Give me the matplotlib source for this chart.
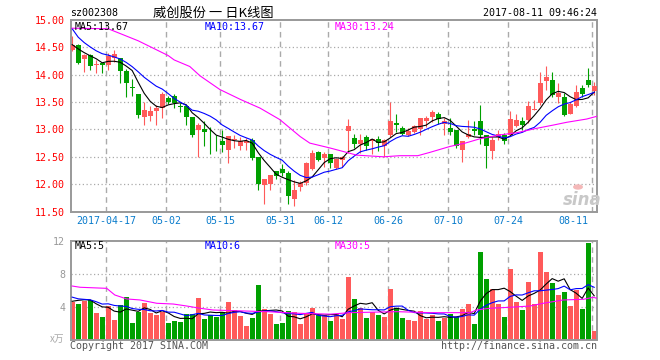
import matplotlib
matplotlib.use("Agg")
import matplotlib.pyplot as plt
import matplotlib.transforms as mtrans
from matplotlib.patches import Circle
import numpy as np

# ---------------- data ----------------
opens = [14.46, 14.55, 14.28, 14.36, 14.17, 14.22, 14.17, 14.31, 14.30, 14.07,
         13.77, 13.64, 13.22, 13.24, 13.34, 13.39, 13.58, 13.61, 13.42, 13.42,
         13.22, 12.99, 13.01, 12.85, 12.72, 12.78, 12.63, 12.80, 12.70, 12.76,
         12.80, 12.50, 11.99, 12.01, 12.24, 12.28, 12.21, 11.72, 11.95, 12.02,
         12.27, 12.59, 12.47, 12.56, 12.30, 12.45, 12.98, 12.85, 12.74, 12.86,
         12.78, 12.82, 12.69, 12.90, 13.11, 13.02, 12.90, 12.96, 13.00, 13.15,
         13.22, 13.28, 13.10, 13.02, 12.99, 12.63, 12.86, 13.00, 13.15, 12.90,
         12.60, 12.86, 12.90, 12.90, 13.07, 13.15, 13.18, 13.36, 13.48, 13.89,
         13.90, 13.60, 13.59, 13.28, 13.42, 13.76, 13.90, 13.71]
highs = [14.71, 14.56, 14.37, 14.37, 14.26, 14.22, 14.40, 14.45, 14.31, 14.10,
         13.92, 13.65, 13.50, 13.42, 13.44, 13.69, 13.61, 13.64, 13.48, 13.44,
         13.23, 13.12, 13.15, 13.04, 12.89, 12.99, 12.88, 12.90, 12.87, 12.84,
         12.84, 12.50, 12.10, 12.16, 12.24, 12.36, 12.24, 12.08, 12.05, 12.40,
         12.62, 12.60, 12.59, 12.56, 12.48, 12.52, 13.19, 12.92, 12.92, 12.90,
         12.83, 12.88, 12.82, 13.51, 13.28, 13.07, 13.02, 13.08, 13.21, 13.25,
         13.35, 13.31, 13.21, 13.21, 12.99, 12.78, 13.18, 13.15, 13.45, 12.90,
         12.87, 12.99, 12.93, 13.33, 13.28, 13.22, 13.52, 13.54, 14.05, 14.16,
         14.05, 13.85, 13.66, 13.51, 13.81, 13.81, 14.12, 13.87]
lows = [14.43, 14.19, 14.05, 14.08, 14.03, 14.04, 14.08, 14.23, 13.85, 13.59,
        13.61, 13.21, 13.08, 13.16, 13.08, 13.20, 13.46, 13.39, 13.31, 13.08,
        12.87, 12.50, 12.69, 12.55, 12.60, 12.58, 12.38, 12.66, 12.63, 12.63,
        12.45, 11.89, 11.63, 11.89, 12.09, 12.15, 11.63, 11.60, 11.87, 11.99,
        12.25, 12.42, 12.32, 12.30, 12.28, 12.31, 12.57, 12.66, 12.57, 12.63,
        12.56, 12.60, 12.50, 12.87, 12.96, 12.90, 12.88, 12.94, 12.89, 13.04,
        13.13, 13.10, 12.90, 12.90, 12.66, 12.40, 12.84, 12.90, 12.74, 12.30,
        12.46, 12.81, 12.74, 12.90, 13.04, 12.99, 13.12, 13.35, 13.45, 13.72,
        13.60, 13.49, 13.25, 13.28, 13.41, 13.60, 13.78, 13.63]
closes = [14.54, 14.21, 14.36, 14.16, 14.19, 14.17, 14.34, 14.37, 14.07, 13.84,
          13.76, 13.27, 13.36, 13.34, 13.39, 13.64, 13.51, 13.48, 13.41, 13.22,
          12.90, 13.08, 12.95, 12.84, 12.71, 12.72, 12.88, 12.82, 12.78, 12.79,
          12.48, 12.01, 12.10, 12.16, 12.15, 12.21, 11.79, 11.90, 12.02, 12.38,
          12.57, 12.44, 12.56, 12.38, 12.46, 12.50, 13.07, 12.74, 12.80, 12.69,
          12.82, 12.75, 12.81, 13.15, 13.09, 12.92, 12.98, 13.07, 13.21, 13.21,
          13.31, 13.19, 13.16, 12.95, 12.69, 12.78, 12.92, 12.98, 12.90, 12.70,
          12.81, 12.92, 12.78, 13.19, 13.18, 13.08, 13.43, 13.38, 13.85, 13.96,
          13.63, 13.66, 13.27, 13.47, 13.69, 13.65, 13.81, 13.79]
# closes before the first visible day (inferred from the MA lines)
pre_closes = [15.75, 15.35, 14.95, 14.90, 14.70, 14.60, 14.70, 14.45, 14.46]

volumes = [4.65, 4.37, 4.77, 4.86, 3.33, 2.81, 4.13, 2.45, 4.25, 5.25,
           2.08, 3.41, 4.53, 3.33, 3.09, 3.45, 2.12, 2.33, 2.20, 3.17,
           3.17, 5.10, 2.57, 3.01, 2.81, 3.37, 4.61, 3.65, 2.93, 1.72,
           2.69, 6.66, 3.77, 3.17, 1.96, 2.08, 3.53, 3.41, 1.96, 3.17,
           3.89, 3.05, 3.05, 2.33, 3.17, 2.57, 7.63, 4.98, 3.93, 2.69,
           3.41, 3.05, 2.81, 6.18, 3.89, 2.69, 2.45, 2.33, 3.53, 2.57,
           3.05, 2.33, 2.73, 3.17, 2.81, 3.77, 4.37, 1.96, 10.64, 7.39,
           6.18, 4.37, 2.81, 8.59, 4.61, 3.65, 7.03, 4.37, 10.64, 8.23,
           6.90, 5.46, 5.82, 4.13, 6.06, 3.77, 11.72, 1.12]
pre_volumes = [6.40, 5.40, 5.43, 5.60, 5.67, 3.80, 4.40, 5.00, 5.65]

# MA30 lines (index, value)
ma30_idx = [0, 6, 11, 16, 17, 19.6, 21.3, 24.6, 28, 31.3, 34.6, 38, 39.6, 43,
            45.75, 47.4, 51.9, 54.6, 57.6, 59.6, 63, 65.5, 68, 71.3, 74.1, 77.4,
            80.2, 82.4, 85.75, 87.45]
ma30_val = [14.85, 14.84, 14.62, 14.35, 14.27, 14.15, 13.98, 13.73, 13.55, 13.39,
            13.18, 12.87, 12.75, 12.66, 12.58, 12.53, 12.50, 12.52, 12.52, 12.58,
            12.69, 12.75, 12.83, 12.90, 12.94, 13.02, 13.08, 13.13, 13.19, 13.24]
vma30_idx = [0, 1.3, 5.75, 7.1, 9.1, 11.3, 14.1, 16.85, 19.1, 21.3, 23.5, 26.85,
             32.4, 38, 43, 46.3, 54.1, 59.6, 66.3, 67.4, 69.6, 73, 76.3, 78.5,
             81.85, 85.2, 86.85, 87.45]
vma30_val = [6.54, 6.39, 6.26, 5.46, 4.98, 4.86, 4.46, 4.37, 4.13, 3.86, 3.65, 3.57,
             3.45, 3.25, 3.15, 3.33, 3.45, 3.33, 3.33, 3.65, 3.86, 3.98, 4.13, 4.46,
             4.86, 4.94, 5.18, 5.06]

tick_idx = [6, 16, 25, 35, 43, 53, 63, 73, 87]
tick_labels = ["2017-04-17", "05-02", "05-15", "05-31", "06-12",
               "06-26", "07-10", "07-24", "08-11"]
price_ticks = [11.5, 12.0, 12.5, 13.0, 13.5, 14.0, 14.5, 15.0]
vol_ticks = [4, 8, 12]

title = "威创股份 一 日K线图"
code = "sz002308"
stamp = "2017-08-11 09:46:24"

# ---------------- style ----------------
RED = "#ff5a5a"
GREEN = "#00a000"
GRID = "#aaaaaa"
FRAME = "#999999"
MONO = "DejaVu Sans Mono"
W, H = 660, 360

def fx(px):
    return px / W

def fy(py):
    return 1 - py / H

fig = plt.figure(figsize=(6.6, 3.6), dpi=100)
axp = fig.add_axes([fx(70.7), fy(211.5), fx(597 - 70.7), (211.5 - 20) / H])
axv = fig.add_axes([fx(70.7), fy(340.3), fx(597 - 70.7), (340.3 - 240.7) / H])

o = np.array(opens); h = np.array(highs); l = np.array(lows); c = np.array(closes)
v = np.array(volumes)
x = np.arange(len(c))
up = c >= o
cols = np.where(up, RED, GREEN)

def rolling(arr, pre, n):
    full = np.concatenate([pre, arr])
    return np.array([full[i + len(pre) - n + 1:i + len(pre) + 1].mean() for i in range(len(arr))])

xl = (-0.25, 87.47)
tick_pos = [t - 0.3 for t in tick_idx]

for ax in (axp, axv):
    ax.set_xlim(*xl)
    for s in ax.spines.values():
        s.set_color(FRAME)
        s.set_linewidth(1.4)
    for tp in tick_pos:
        ax.axvline(tp, color=GRID, lw=1.0, ls=(0, (4, 3)), zorder=0)
    ax.tick_params(length=0)

# price panel
axp.set_ylim(11.5, 15.0)
for yv in price_ticks[1:-1]:
    axp.axhline(yv, color=GRID, lw=0.9, ls=(0, (1, 2)), zorder=0)
axp.vlines(x, l, h, colors=cols, lw=0.8, zorder=2)
body_lo = np.minimum(o, c)
body_h = np.maximum(np.abs(c - o), 0.012)
axp.bar(x, body_h, bottom=body_lo, width=0.8, color=cols, lw=0, zorder=3)

ma5 = rolling(c, np.array(pre_closes), 5)
ma10 = rolling(c, np.array(pre_closes), 10)
axp.plot(x, ma5, color="black", lw=0.8, zorder=4)
axp.plot(x, ma10, color="#0000ff", lw=0.8, zorder=4)
axp.plot(ma30_idx, ma30_val, color="#ff00ff", lw=0.8, zorder=4)

axp.set_yticks(price_ticks)
axp.set_yticklabels([f"{p:.2f}" for p in price_ticks], color="red",
                    fontfamily=MONO, fontsize=7.2)
axp.tick_params(axis="y", pad=4)
axp.set_xticks(tick_pos)
axp.set_xticklabels(tick_labels, color="#0a7ccc", fontfamily=MONO, fontsize=7.2)
axp.tick_params(axis="x", pad=3)
lab = axp.get_xticklabels()[-1]
lab.set_ha("right")
lab.set_transform(lab.get_transform() + mtrans.ScaledTranslation(-3 / 72, 0, fig.dpi_scale_trans))

# volume panel
axv.set_ylim(0, 12)
for yv in (4, 8):
    axv.axhline(yv, color=GRID, lw=0.9, ls=(0, (1, 2)), zorder=0)
axv.bar(x, v, width=0.8, color=cols, lw=0, zorder=2)
vma5 = rolling(v, np.array(pre_volumes), 5)
vma10 = rolling(v, np.array(pre_volumes), 10)
axv.plot(x, vma5, color="black", lw=0.8, zorder=4)
axv.plot(x, vma10, color="#0000ff", lw=0.8, zorder=4)
axv.plot(vma30_idx, vma30_val, color="#ff00ff", lw=0.8, zorder=4)
axv.set_yticks(vol_ticks)
axv.set_yticklabels([str(t) for t in vol_ticks], color="#999999",
                    fontfamily=MONO, fontsize=7.2)
axv.tick_params(axis="y", pad=4)
axv.set_xticks([])

# texts
fig.text(fx(70), fy(13), code, fontfamily=MONO, fontsize=7.2, va="center", ha="left")
fig.text(fx(213.5), fy(13), title, family=["Noto Sans CJK SC", "DejaVu Sans"],
         fontsize=9.5, va="center", ha="center")
fig.text(fx(597), fy(13), stamp, fontfamily=MONO, fontsize=7.2, va="center", ha="right")

fig.text(fx(75), fy(26.7), f"MA5:{ma5[-1] - 0.01:.2f}", fontfamily=MONO, fontsize=7.2,
         va="center", color="black")
fig.text(fx(205), fy(26.7), f"MA10:{ma10[-1] - 0.01:.2f}", fontfamily=MONO, fontsize=7.2,
         va="center", color="#0000ff")
fig.text(fx(335), fy(26.7), f"MA30:{ma30_val[-1]:.2f}", fontfamily=MONO, fontsize=7.2,
         va="center", color="#ff00ff")

fig.text(fx(75), fy(246), "MA5:5", fontfamily=MONO, fontsize=7.2, va="center", color="black")
fig.text(fx(205), fy(246), "MA10:6", fontfamily=MONO, fontsize=7.2, va="center", color="#0000ff")
fig.text(fx(335), fy(246), "MA30:5", fontfamily=MONO, fontsize=7.2, va="center", color="#ff00ff")

fig.text(fx(64), fy(339), "x万", family=["Noto Sans CJK SC", "DejaVu Sans"], fontsize=7,
         style="italic", color="#aaaaaa", va="center", ha="right")
fig.text(fx(70), fy(346), "Copyright 2017 SINA.COM", fontfamily=MONO, fontsize=7.2,
         color="#555555", va="center", ha="left")
fig.text(fx(597), fy(346), "http://finance.sina.com.cn", fontfamily=MONO, fontsize=7.2,
         color="#555555", va="center", ha="right")

# sina watermark
fig.text(fx(582), fy(200), "sina", fontsize=12, fontweight="bold", style="italic",
         color="#c8c8c8", va="center", ha="center", family="DejaVu Sans")
fig.patches.append(Circle((fx(578), fy(187)), 0.0075, transform=fig.transFigure,
                          facecolor="#f4b8b8", edgecolor="none", zorder=5))

fig.savefig("out.png", dpi=100)
